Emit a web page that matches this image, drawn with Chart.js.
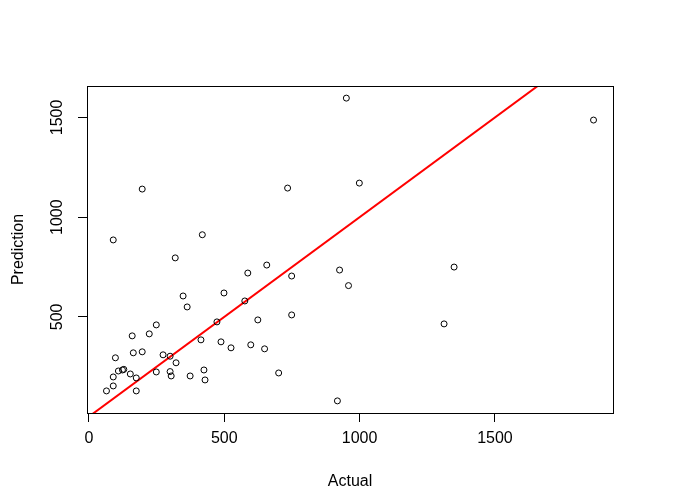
<!DOCTYPE html>
<html>
<head>
<meta charset="utf-8">
<script src="https://cdn.jsdelivr.net/npm/chart.js@4"></script>
<style>
  body { margin: 0; background: #fff; }
  canvas { display: block; }
</style>
</head>
<body>
<canvas id="predChart" width="700" height="500"></canvas>
<script>
// actual vs predicted values
const actual = [197, 90, 419, 319, 348, 363, 499, 587, 657, 576, 624, 473, 414, 488, 525, 598, 649, 701,
  249, 223, 160, 164, 197, 98, 274, 300, 322, 109, 124, 129, 153, 90, 175, 249, 300, 304, 374, 425, 429,
  90, 65, 175, 951, 734, 999, 749, 926, 959, 749, 918, 1349, 1312, 1864];
const prediction = [1141, 886, 912, 796, 605, 550, 620, 720, 760, 580, 485, 475, 385, 375, 345, 360, 340, 219,
  460, 415, 405, 320, 325, 295, 310, 303, 270, 229, 234, 237, 214, 199, 194, 224, 226, 204, 204, 234, 184,
  154, 129, 129, 1597, 1146, 1171, 705, 735, 657, 510, 79, 750, 465, 1487];
const tickValues = [0, 500, 1000, 1500];
const lineIntercept = 0;
const lineSlope = 1;

const FONT = "'Liberation Sans', Arial, sans-serif";

// R style axis limits: data range plus 4% each side
function rRange(v) {
  const lo = Math.min(...v), hi = Math.max(...v);
  const pad = (hi - lo) * 0.04;
  return [lo - pad, hi + pad];
}
const [xMin, xMax] = rRange(actual);
const [yMin, yMax] = rRange(prediction);

const points = actual.map((a, i) => ({ x: a, y: prediction[i] }));
const fitLine = [xMin - 100, xMax + 100].map(x => ({ x: x, y: lineIntercept + lineSlope * x }));

// only the ticks that fall inside the axis range
const setTicks = axis => {
  axis.ticks = tickValues.filter(v => v >= axis.min && v <= axis.max).map(v => ({ value: v }));
};

// box around the plot and rotated y tick labels like base R
const rFrame = {
  id: "rFrame",
  afterDraw(chart) {
    const ctx = chart.ctx;
    const a = chart.chartArea;
    ctx.save();
    ctx.strokeStyle = "#000";
    ctx.lineWidth = 1;
    ctx.strokeRect(Math.round(a.left) + 0.5, Math.round(a.top) + 0.5,
      Math.round(a.right - a.left), Math.round(a.bottom - a.top));
    const ys = chart.scales.y;
    ctx.fillStyle = "#000";
    ctx.font = "16px " + FONT;
    ctx.textAlign = "center";
    ctx.textBaseline = "bottom";
    ys.ticks.forEach(t => {
      ctx.save();
      ctx.translate(a.left - 21, ys.getPixelForValue(t.value));
      ctx.rotate(-Math.PI / 2);
      ctx.fillText(String(t.value), 0, 0);
      ctx.restore();
    });
    ctx.restore();
  }
};

new Chart(document.getElementById("predChart"), {
  type: "scatter",
  data: {
    datasets: [
      {
        data: points,
        pointStyle: "circle",
        pointRadius: 3,
        pointBorderWidth: 1,
        borderColor: "#000",
        backgroundColor: "rgba(0,0,0,0)"
      },
      {
        type: "line",
        data: fitLine,
        borderColor: "#ff0000",
        borderWidth: 2,
        pointRadius: 0,
        fill: false
      }
    ]
  },
  options: {
    responsive: false,
    animation: false,
    layout: { padding: { top: 86, right: 87, left: 0, bottom: 0 } },
    plugins: { legend: { display: false }, tooltip: { enabled: false } },
    scales: {
      x: {
        type: "linear",
        min: xMin,
        max: xMax,
        afterBuildTicks: setTicks,
        afterFit: s => { s.height = 87; },
        grid: { display: true, drawOnChartArea: false, color: "#000", tickLength: 9 },
        border: { display: false },
        ticks: { color: "#000", font: { family: FONT, size: 16 }, padding: 7, maxRotation: 0,
          callback: v => String(v) },
        title: { display: true, text: "Actual", color: "#000", font: { family: FONT, size: 16 }, padding: { top: 0, bottom: 9 } }
      },
      y: {
        type: "linear",
        min: yMin,
        max: yMax,
        afterBuildTicks: setTicks,
        afterFit: s => { s.width = 87; },
        grid: { display: true, drawOnChartArea: false, color: "#000", tickLength: 9 },
        border: { display: false },
        ticks: { display: false },
        title: { display: true, text: "Prediction", color: "#000", font: { family: FONT, size: 16 }, padding: { top: 9, bottom: 0 } }
      }
    }
  },
  plugins: [rFrame]
});
</script>
</body>
</html>
